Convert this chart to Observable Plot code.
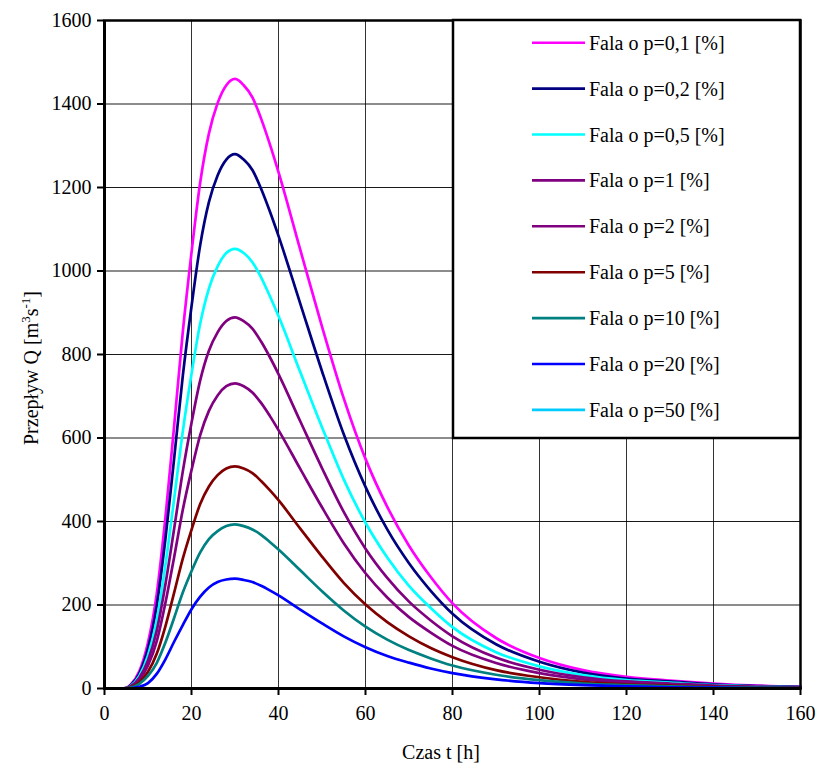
<!DOCTYPE html>
<html><head><meta charset="utf-8">
<script src="https://cdn.jsdelivr.net/npm/d3@7"></script>
<script src="https://cdn.jsdelivr.net/npm/@observablehq/plot@0.6"></script>
<style>
body{margin:0;background:#fff}
#chart{position:relative;width:817px;height:771px}
</style>
</head><body><div id="chart"></div>
<script>
// time [h]
const hours = [0,4,5,6,8,10,12,14,16,18,20,22,24,26,28,30,32,34,36,38,40,45,50,55,60,65,70,75,80,90,100,110,120,130,140,150,160];
const seriesNames = ["Fala o p=0,1 [%]","Fala o p=0,2 [%]","Fala o p=0,5 [%]","Fala o p=1 [%]","Fala o p=2 [%]","Fala o p=5 [%]","Fala o p=10 [%]","Fala o p=20 [%]","Fala o p=50 [%]"];
const seriesColors = ["#FF00FF","#000080","#00FFFF","#800080","#800080","#800000","#008080","#0000FF","#00CCFF"];
const q01 = [0,0,1,9,41,110,226,409,628,854,1044,1212,1329,1402,1445,1460,1445,1416,1365,1304,1237,1051,867,695,550,435,342,267,204,121,73,44,28,19,12,7,4];
const q02 = [0,0,1,8,36,96,198,358,550,749,915,1062,1165,1229,1267,1280,1267,1242,1197,1143,1084,922,760,609,483,381,300,234,179,106,64,38,24,17,10,6,4];
const q05 = [0,0,1,6,30,79,163,295,453,616,753,874,958,1011,1043,1053,1043,1021,985,940,892,758,626,501,397,314,246,193,147,87,53,32,20,14,8,5,3];
const q1  = [0,0,1,5,25,67,138,249,382,520,636,738,809,853,880,889,880,862,831,794,753,640,528,423,335,265,208,163,125,74,45,27,17,12,7,4,3];
const q2  = [0,0,1,4,21,55,113,205,314,428,523,607,665,702,724,731,724,709,684,653,619,526,434,348,276,218,171,134,102,61,37,22,14,10,6,4,2];
const q5  = [0,0,0.5,3,15,40,83,149,229,311,380,442,484,511,527,532,527,516,497,475,451,383,316,253,201,159,125,97,75,44,27,16,10,7,4,3,2];
const q10 = [0,0,0.4,2,11,30,61,110,169,230,281,326,358,377,389,393,389,381,368,351,333,283,233,187,148,117,92,72,55,33,20,12,8,5,3,2,1];
const q20 = [0,0,0,0.5,4,13,35,70,112,152,190,220,242,255,261,263,260,255,246,235,223,189,156,125,99,78,62,48,37,22,13,8,5,3,2,1,1];
const q50 = null; // curve not visible in the reference
const seriesValues = [q01,q02,q05,q1,q2,q5,q10,q20,q50];
const xTicks = [0,20,40,60,80,100,120,140,160];
const yTicks = [0,200,400,600,800,1000,1200,1400,1600];

const rows = [];
seriesValues.forEach((vals,i)=>{
  if(!vals) return;
  vals.forEach((q,j)=>rows.push({t:hours[j], q, s:seriesNames[i]}));
});

const font = '"Liberation Serif","Times New Roman",serif';
const plot = Plot.plot({
  width: 817, height: 771,
  marginLeft: 104, marginRight: 17, marginTop: 20, marginBottom: 83,
  style: {fontFamily: font, fontSize: "20px", color: "#000", background: "#fff", overflow: "visible"},
  x: {domain: [0,160]},
  y: {domain: [0,1600]},
  color: {domain: seriesNames, range: seriesColors},
  marks: [
    Plot.gridX(xTicks, {stroke: "#000", strokeOpacity: 0.8, strokeWidth: 1}),
    Plot.gridY(yTicks, {stroke: "#000", strokeOpacity: 0.9, strokeWidth: 1}),
    Plot.line(rows, {x: "t", y: "q", z: "s", stroke: "s", strokeWidth: 2.7, curve: "monotone-x"}),
    Plot.frame({stroke: "#000", strokeWidth: 2.5}),
    Plot.ruleX([0], {stroke: "#000", strokeWidth: 3}),
    Plot.ruleY([0], {stroke: "#000", strokeWidth: 3}),
    Plot.axisX(xTicks, {tickSize: 7, tickPadding: 10, label: null, fontSize: 20, strokeWidth: 2, tickFormat: d => String(d)}),
    Plot.axisY(yTicks, {tickSize: 7, tickPadding: 6, label: null, fontSize: 20, strokeWidth: 2, tickFormat: d => String(d)})
  ]
});
document.getElementById("chart").appendChild(plot);

const svg = d3.select(plot);
// axis titles
svg.append("text")
  .attr("x", 441).attr("y", 759)
  .attr("text-anchor", "middle")
  .style("font-family", font).style("font-size", "20px").attr("fill", "#000")
  .text("Czas t [h]");
const yt = svg.append("text")
  .attr("transform", "translate(38,368) rotate(-90)")
  .attr("text-anchor", "middle")
  .style("font-family", font).style("font-size", "20px").attr("fill", "#000");
yt.append("tspan").text("Przepływ Q [m");
yt.append("tspan").attr("dy", -8).style("font-size", "13px").text("3");
yt.append("tspan").attr("dy", 8).text("s");
yt.append("tspan").attr("dy", -8).style("font-size", "13px").text("-1");
yt.append("tspan").attr("dy", 8).text("]");

// legend box inside the plot area
const lg = svg.append("g").attr("text-anchor", "start");
lg.append("rect").attr("x", 453).attr("y", 20).attr("width", 347).attr("height", 418)
  .attr("fill", "#fff").attr("stroke", "#000").attr("stroke-width", 2.5);
seriesNames.forEach((n,i)=>{
  const y = 42.7 + i*45.9;
  lg.append("line").attr("x1", 532).attr("x2", 585).attr("y1", y).attr("y2", y)
    .attr("stroke", seriesColors[i]).attr("stroke-width", 2.6);
  lg.append("text").attr("x", 589).attr("y", y).attr("dy", "0.35em")
    .attr("text-anchor", "start")
    .style("font-family", font).style("font-size", "20px").attr("fill", "#000").text(n);
});
</script>
</body></html>
